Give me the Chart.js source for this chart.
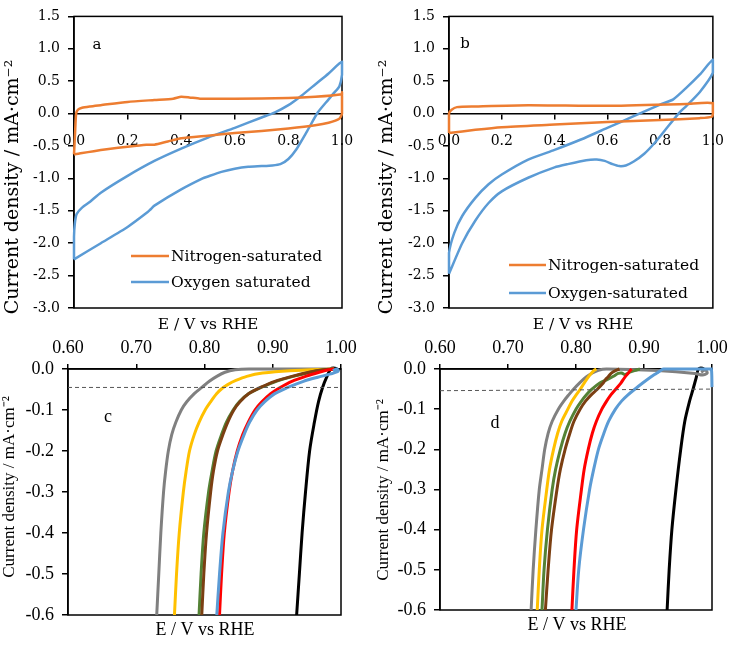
<!DOCTYPE html>
<html>
<head>
<meta charset="utf-8">
<script src="https://cdn.jsdelivr.net/npm/chart.js@4.4.0/dist/chart.umd.min.js"></script>
<style>
body{margin:0;background:#fff;}
#wrap{position:relative;width:738px;height:645px;}
canvas{position:absolute;}
</style>
</head>
<body>
<div id="wrap">
<canvas id="cA" width="369" height="340" style="left:0;top:0"></canvas>
<canvas id="cB" width="369" height="340" style="left:369px;top:0"></canvas>
<canvas id="cC" width="369" height="310" style="left:0;top:335px"></canvas>
<canvas id="cD" width="369" height="310" style="left:369px;top:335px"></canvas>
</div>
<script>
// Panel a - cyclic voltammetry
const aN2X = [0.0,0.004,0.008,0.015,0.03,0.06,0.1,0.2,0.3,0.37,0.4,0.43,0.47,0.6,0.8,0.9,1.0,1.0,1.0,0.99,0.95,0.9,0.8,0.7,0.6,0.5,0.4,0.35,0.3,0.27,0.2,0.1,0.0];
const aN2Y = [-0.63,-0.3,0.0,0.06,0.09,0.11,0.13,0.18,0.21,0.23,0.26,0.25,0.23,0.23,0.24,0.26,0.3,0.33,0.0,-0.08,-0.14,-0.18,-0.23,-0.27,-0.30,-0.34,-0.38,-0.43,-0.48,-0.48,-0.51,-0.56,-0.63];
const aO2X = [0.0,0.0,0.003,0.01,0.03,0.06,0.1,0.2,0.3,0.4,0.5,0.6,0.7,0.75,0.8,0.85,0.9,0.95,1.0,1.0,0.99,0.97,0.95,0.91,0.87,0.83,0.8,0.77,0.74,0.7,0.65,0.6,0.55,0.5,0.48,0.4,0.3,0.285,0.275,0.2,0.1,0.0];
const aO2Y = [-2.25,-1.9,-1.7,-1.55,-1.45,-1.36,-1.22,-0.96,-0.73,-0.54,-0.37,-0.22,-0.06,0.02,0.13,0.28,0.45,0.62,0.8,0.6,0.42,0.32,0.22,0.02,-0.27,-0.55,-0.70,-0.78,-0.80,-0.81,-0.82,-0.85,-0.9,-0.97,-1.0,-1.17,-1.42,-1.48,-1.52,-1.75,-2.0,-2.25];

// Panel b
const bN2X = [0.0,0.1,0.2,0.4,0.6,0.8,0.95,0.995,1.0,1.0,0.9,0.6,0.3,0.1,0.03,0.01,0.0,0.0];
const bN2Y = [-0.3,-0.25,-0.21,-0.17,-0.13,-0.1,-0.07,-0.05,0.0,0.16,0.15,0.12,0.13,0.11,0.10,0.06,0.0,-0.3];
const bO2X = [0.0,0.0,0.02,0.05,0.1,0.15,0.2,0.3,0.4,0.5,0.6,0.7,0.8,0.85,0.9,0.95,1.0,1.0,0.95,0.9,0.87,0.82,0.78,0.74,0.7,0.67,0.645,0.62,0.59,0.56,0.52,0.45,0.4,0.3,0.2,0.15,0.1,0.05,0.0];
const bO2Y = [-2.47,-2.15,-1.84,-1.58,-1.3,-1.09,-0.94,-0.71,-0.56,-0.4,-0.22,-0.04,0.14,0.22,0.4,0.6,0.83,0.63,0.33,0.12,0.0,-0.25,-0.45,-0.62,-0.74,-0.8,-0.81,-0.78,-0.73,-0.71,-0.72,-0.78,-0.83,-0.99,-1.2,-1.38,-1.65,-2.0,-2.47];

// Panel c - LSV
const cGrayX = [0.730,0.733,0.736,0.740,0.743,0.747,0.752,0.758,0.766,0.774,0.785,0.796,0.807,0.818,0.830,0.845,0.865,0.99];
const cGrayY = [-0.6,-0.5,-0.4,-0.3,-0.25,-0.2,-0.16,-0.13,-0.1,-0.08,-0.06,-0.045,-0.03,-0.018,-0.008,-0.002,0,0];
const cGoldX = [0.756,0.759,0.763,0.769,0.773,0.778,0.785,0.792,0.801,0.809,0.818,0.826,0.834,0.846,0.862,0.885,0.925,0.99];
const cGoldY = [-0.6,-0.5,-0.4,-0.3,-0.25,-0.2,-0.16,-0.13,-0.1,-0.08,-0.06,-0.047,-0.038,-0.028,-0.018,-0.01,-0.004,0];
const cLsvY = [-0.6,-0.5,-0.4,-0.3,-0.25,-0.2,-0.16,-0.13,-0.1,-0.08,-0.06,-0.045,-0.03,-0.018,-0.008,-0.002,0];
const cGreenX = [0.792,0.795,0.799,0.806,0.811,0.817,0.825,0.832,0.842,0.851,0.865,0.883,0.905,0.930,0.955,0.975,0.99];
const cBrownX = [0.796,0.799,0.803,0.809,0.813,0.819,0.827,0.834,0.843,0.852,0.865,0.882,0.903,0.928,0.953,0.974,0.99];
const cRedX = [0.822,0.825,0.829,0.836,0.841,0.848,0.856,0.864,0.874,0.884,0.897,0.911,0.928,0.948,0.968,0.982,0.99];
const cBlueX = [0.818,0.822,0.827,0.835,0.841,0.849,0.858,0.866,0.877,0.888,0.903,0.922,0.945,0.966,0.985,0.996,0.994,0.988];
const cBlueY = [-0.6,-0.5,-0.4,-0.3,-0.25,-0.2,-0.16,-0.13,-0.1,-0.08,-0.06,-0.045,-0.03,-0.02,-0.012,-0.005,0.0,-0.004];
const cBlackX = [0.935,0.939,0.943,0.948,0.954,0.961,0.967,0.973,0.979,0.985,0.991,0.996,0.991];
const cBlackY = [-0.6,-0.5,-0.4,-0.3,-0.2,-0.13,-0.08,-0.045,-0.02,0,0.002,-0.003,-0.006];
const cRefX = [0.6,1.0];
const cRefY = [-0.045,-0.045];

// Panel d
const dLsvY = [-0.6,-0.5,-0.4,-0.3,-0.25,-0.2,-0.16,-0.13,-0.1,-0.08,-0.065,-0.051,-0.035,-0.02,-0.01,-0.003,0];
const dGrayX = [0.734,0.737,0.741,0.746,0.750,0.754,0.759,0.765,0.774,0.782,0.789,0.796,0.805,0.815,0.824,0.833,0.845,0.92,0.975,0.986,0.993,0.990,0.984];
const dGrayY = dLsvY.concat([-0.004,-0.011,-0.015,-0.01,-0.002,-0.008]);
const dGoldX = [0.743,0.746,0.750,0.757,0.761,0.767,0.773,0.779,0.788,0.794,0.800,0.806,0.812,0.818,0.823,0.827,0.830];
const dGreenX = [0.750,0.753,0.758,0.765,0.770,0.777,0.784,0.791,0.800,0.808,0.815,0.823,0.835,0.845,0.855,0.862,0.867,0.872,0.879,0.886,0.894];
const dGreenY = [-0.6,-0.5,-0.4,-0.3,-0.25,-0.2,-0.16,-0.13,-0.1,-0.08,-0.065,-0.051,-0.035,-0.027,-0.018,-0.011,-0.01,-0.014,-0.008,-0.004,0];
const dBrownX = [0.755,0.759,0.764,0.772,0.777,0.784,0.791,0.797,0.806,0.814,0.822,0.831,0.840,0.843,0.847,0.852,0.858,0.864];
const dBrownY = [-0.6,-0.5,-0.4,-0.3,-0.25,-0.2,-0.16,-0.13,-0.1,-0.08,-0.065,-0.051,-0.035,-0.027,-0.02,-0.01,-0.004,0];
const dRedX = [0.794,0.797,0.801,0.808,0.812,0.818,0.824,0.830,0.838,0.845,0.851,0.858,0.866,0.872,0.877,0.880,0.882];
const dBlueX = [0.800,0.804,0.811,0.820,0.826,0.833,0.841,0.848,0.858,0.867,0.876,0.886,0.898,0.910,0.919,0.925,0.929,0.96,0.999,1.0];
const dBlueY = dLsvY.concat([0,0,-0.045]);
const dBlackX = [0.934,0.937,0.941,0.947,0.954,0.960,0.967,0.972,0.977,0.980,0.986,0.990];
const dBlackY = [-0.6,-0.5,-0.4,-0.3,-0.2,-0.13,-0.08,-0.051,-0.02,0,0.002,-0.003];
const dRefX = [0.6,1.0];
const dRefY = [-0.054,-0.050];

const XTITLE = "E / V vs RHE";
const YTITLE = "Current density / mA·cm⁻²";
const PAL = '"DejaVu Serif"';
const TIM = '"Liberation Serif"';

function pts(xs, ys){ return xs.map((x,i)=>({x:x, y:ys[i]})); }
function line(label, xs, ys, color, w, tension, dash){
    return {label, data:pts(xs,ys), borderColor:color, backgroundColor:color, borderWidth:w, borderDash:dash||[],
        pointRadius:0, showLine:true, tension:tension, clip:4};
}
function fmt(dec){ return v=>(Math.abs(v)<1e-9?0:v).toFixed(dec); }

// frame + free texts + inside legend
const framePlugin = {
    id:'frame',
    beforeDatasetsDraw(chart){
        const {ctx, chartArea:a} = chart;
        ctx.save(); ctx.strokeStyle='#000'; ctx.lineWidth=1.5;
        ctx.strokeRect(a.left, a.top, a.right-a.left, a.bottom-a.top);
        ctx.restore();
    },
    afterDraw(chart, args, opts){
        const ctx = chart.ctx;
        ctx.save(); ctx.fillStyle='#000'; ctx.textBaseline='middle';
        (opts.texts||[]).forEach(t=>{
            ctx.save(); ctx.translate(t.x, t.y); if(t.rot) ctx.rotate(t.rot);
            ctx.font=t.font; ctx.textAlign=t.align||'center'; ctx.fillText(t.text,0,0);
            ctx.restore();
        });
        (opts.legend||[]).forEach((l,i)=>{
            const ds = chart.data.datasets[i];
            ctx.strokeStyle=ds.borderColor; ctx.lineWidth=ds.borderWidth;
            ctx.beginPath(); ctx.moveTo(l.x,l.y); ctx.lineTo(l.x+l.len,l.y); ctx.stroke();
            ctx.font=l.font; ctx.textAlign='left'; ctx.fillText(ds.label, l.x+l.len+2, l.y+1);
        });
        ctx.restore();
    }
};

function yAxis(min,max,step,dec,font,width){
    return {type:'linear', min, max, afterFit:s=>{ s.width=width; },
        ticks:{stepSize:step, color:'#000', font, padding:8, callback:fmt(dec)},
        grid:{drawOnChartArea:false, color:'#000', tickLength:6, lineWidth:1.5},
        border:{color:'#000', width:1.5}};
}

function cvChart(id, n2X, n2Y, o2X, o2Y, o2Label, yw, padR, texts, legend){
    const font = {family:PAL, size:14};
    new Chart(document.getElementById(id), {
        type:'scatter',
        data:{datasets:[
            line("Nitrogen-saturated", n2X, n2Y, "#ED7D31", 2.5, 0.2),
            line(o2Label, o2X, o2Y, "#5B9BD5", 2.5, 0.2)
        ]},
        options:{
            responsive:false, animation:false,
            layout:{padding:{top:16, right:padR, bottom:32, left:0}},
            scales:{
                x:{type:'linear', min:0, max:1, position:{y:0},
                    ticks:{stepSize:0.2, color:'#000', font, padding:14, callback:fmt(1)},
                    grid:{drawOnChartArea:false, color:'#000', tickLength:5, lineWidth:1.5},
                    border:{color:'#000', width:1.5}},
                y:yAxis(-3, 1.5, 0.5, 1, font, yw)
            },
            plugins:{legend:{display:false}, tooltip:{enabled:false},
                frame:{texts, legend}}
        },
        plugins:[framePlugin]
    });
}

function lsvChart(id, sets, yw, padR, padB, texts){
    const font = {family:TIM, size:18};
    new Chart(document.getElementById(id), {
        type:'scatter',
        data:{datasets:sets},
        options:{
            responsive:false, animation:false,
            layout:{padding:{top:0, right:padR, bottom:padB, left:0}},
            scales:{
                x:{type:'linear', min:0.6, max:1.0, position:'top', afterFit:s=>{ s.height=34; },
                    ticks:{stepSize:0.1, color:'#000', font, padding:5, callback:fmt(2)},
                    grid:{drawOnChartArea:false, color:'#000', tickLength:5, lineWidth:1.5},
                    border:{color:'#000', width:1.5}},
                y:yAxis(-0.6, 0, 0.1, 1, font, yw)
            },
            plugins:{legend:{display:false}, tooltip:{enabled:false}, frame:{texts}}
        },
        plugins:[framePlugin]
    });
}

const palY = '19px '+PAL, palT = '15.5px '+PAL, timY = '17px '+TIM, timT = '18px '+TIM;

cvChart("cA", aN2X, aN2Y, aO2X, aO2Y, "Oxygen saturated", 74, 27,
    [{text:"a", x:97, y:45, font:'15px '+PAL},
     {text:XTITLE, x:208, y:325, font:palT},
     {text:YTITLE, x:13, y:187, font:palY, rot:-Math.PI/2}],
    [{x:131, y:256, len:38, font:palT}, {x:131, y:282, len:38, font:palT}]);

cvChart("cB", bN2X, bN2Y, bO2X, bO2Y, "Oxygen-saturated", 80, 21,
    [{text:"b", x:96, y:44, font:'15px '+PAL},
     {text:XTITLE, x:214, y:325, font:palT},
     {text:YTITLE, x:18, y:187, font:palY, rot:-Math.PI/2}],
    [{x:140, y:265, len:37, font:palT}, {x:140, y:293, len:37, font:palT}]);

const T = 0.3;
lsvChart("cC", [
    line("ref", cRefX, cRefY, "#555555", 1, 0, [4,3]),
    line("blue", cBlueX, cBlueY, "#5B9BD5", 3, T),
    line("red", cRedX, cLsvY, "#FF0000", 3, T),
    line("brown", cBrownX, cLsvY, "#7B3F12", 3, T),
    line("green", cGreenX, cLsvY, "#548235", 3, T),
    line("gold", cGoldX, cGoldY, "#FFC000", 3, T),
    line("gray", cGrayX, cGrayY, "#808080", 3, T),
    line("black", cBlackX, cBlackY, "#000000", 3, T)
], 68, 28, 30,
    [{text:"c", x:108, y:82, font:timT},
     {text:XTITLE, x:205, y:295, font:timT},
     {text:YTITLE, x:10, y:152, font:timY, rot:-Math.PI/2}]);

lsvChart("cD", [
    line("ref", dRefX, dRefY, "#555555", 1, 0, [4,3]),
    line("blue", dBlueX, dBlueY, "#5B9BD5", 3, T),
    line("red", dRedX, dLsvY, "#FF0000", 3, T),
    line("brown", dBrownX, dBrownY, "#7B3F12", 3, T),
    line("green", dGreenX, dGreenY, "#548235", 3, T),
    line("gold", dGoldX, dLsvY, "#FFC000", 3, T),
    line("gray", dGrayX, dGrayY, "#808080", 3, T),
    line("black", dBlackX, dBlackY, "#000000", 3, T)
], 71, 26, 35,
    [{text:"d", x:126, y:88, font:timT},
     {text:XTITLE, x:208, y:290, font:timT},
     {text:YTITLE, x:15, y:155, font:timY, rot:-Math.PI/2}]);
</script>
</body>
</html>
